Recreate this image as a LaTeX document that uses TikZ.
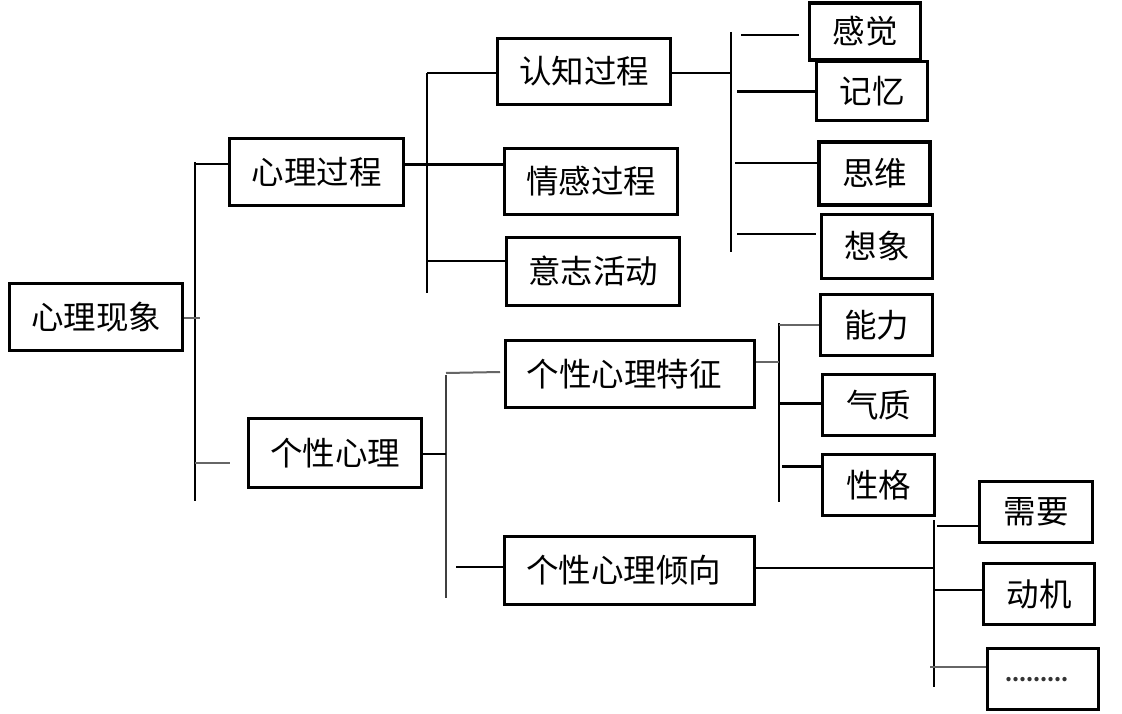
\documentclass[tikz,border=0pt]{standalone}
\usepackage{fontspec}
\newfontfamily\cjk{Noto Sans CJK SC}
\begin{document}
\begin{tikzpicture}[x=1pt,y=-1pt,
  box/.style={draw=black, line width=2.8pt, fill=white, inner sep=0pt, font=\cjk\fontsize{32.5}{36}\selectfont},
  thickbox/.style={box, line width=3.5pt},
  conn/.style={draw=black, line width=2pt},
  thickconn/.style={draw=black, line width=3pt},
  greyconn/.style={draw=black!60, line width=2pt}]
\useasboundingbox[fill=white] (0,0) rectangle (1122,714);

% boxes
\node[box, minimum width=173pt, minimum height=67pt] (root) at (96,317) {\raisebox{3pt}{心理现象}};
\node[box, minimum width=174pt, minimum height=67pt] (gc) at (316.5,172) {\raisebox{3pt}{心理过程}};
\node[box, minimum width=173pt, minimum height=69pt] (gx) at (335,453) {\raisebox{3pt}{个性心理}};
\node[box, minimum width=173pt, minimum height=66pt] (rz) at (584,71.5) {\raisebox{3pt}{认知过程}};
\node[box, minimum width=173pt, minimum height=66pt] (qg) at (591,181.5) {\raisebox{3pt}{情感过程}};
\node[box, minimum width=173pt, minimum height=68pt] (yz) at (593,271.5) {\raisebox{3pt}{意志活动}};
\node[box, minimum width=249pt, minimum height=67pt] (tz) at (630,374) {\hspace*{-12pt}\raisebox{3pt}{个性心理特征}};
\node[box, minimum width=250pt, minimum height=68pt] (qx) at (629.5,570.5) {\hspace*{-12pt}\raisebox{3pt}{个性心理倾向}};
\node[box, minimum width=111pt, minimum height=59pt] (jy) at (872,91) {\raisebox{3pt}{记忆}};
\node[thickbox, minimum width=111pt, minimum height=57pt] (gj) at (865,31.5) {\raisebox{3pt}{感觉}};
\node[thickbox, minimum width=111pt, minimum height=63pt] (sw) at (874.5,173.5) {\raisebox{3pt}{思维}};
\node[box, minimum width=111pt, minimum height=64pt] (xx) at (877,246.5) {\raisebox{3pt}{想象}};
\node[box, minimum width=112pt, minimum height=61pt] (nl) at (876.5,325) {\raisebox{3pt}{能力}};
\node[box, minimum width=112pt, minimum height=61pt] (qz) at (878.5,405) {\raisebox{3pt}{气质}};
\node[box, minimum width=112pt, minimum height=61pt] (xg) at (878.5,485) {\raisebox{3pt}{性格}};
\node[thickbox, minimum width=113pt, minimum height=61pt] (xy) at (1036,512) {\raisebox{3pt}{需要}};
\node[box, minimum width=111pt, minimum height=61pt] (dj) at (1039,594) {\raisebox{3pt}{动机}};
\node[box, minimum width=111pt, minimum height=61pt] (dd) at (1043,679) {\hspace*{-12pt}\raisebox{-6pt}{\fontsize{20}{20}\selectfont\bfseries\color{black!80}.........}};

% bus 1
\coordinate (b1t) at (195,162);
\coordinate (b1b) at (195,501);
\coordinate (b1g) at (195,164);
\coordinate (b1r) at (200,318);
\coordinate (b1x) at (195,463);
\coordinate (b1xe) at (230,463);
\draw[conn] (b1t) -- (b1b);
\draw[conn] (b1g) -- (gc.west |- b1g);
\draw[greyconn] (root.east |- b1r) -- (b1r);
\draw[greyconn] (b1x) -- (b1xe);

% bus 2
\coordinate (b2t) at (427,73);
\coordinate (b2b) at (427,293);
\coordinate (b2m) at (427,165);
\coordinate (b2l) at (427,261);
\draw[conn] (b2t) -- (b2b);
\draw[conn] (b2t) -- (rz.west |- b2t);
\draw[thickconn] (gc.east |- b2m) -- (qg.west |- b2m);
\draw[conn] (b2l) -- (yz.west |- b2l);

% bus 3
\coordinate (b3t) at (731,32);
\coordinate (b3b) at (731,252);
\coordinate (b3r) at (731,73);
\coordinate (g1s) at (741,35);
\coordinate (g1e) at (799,35);
\coordinate (j1) at (737,92);
\coordinate (s1) at (735,163);
\coordinate (x1) at (737,234);
\coordinate (x1e) at (816,234);
\draw[conn] (b3t) -- (b3b);
\draw[conn] (rz.east |- b3r) -- (b3r);
\draw[conn] (g1s) -- (g1e);
\draw[thickconn] (j1) -- (jy.west |- j1);
\draw[conn] (s1) -- (sw.west |- s1);
\draw[conn] (x1) -- (x1e);

% bus 4
\coordinate (b4t) at (446,375);
\coordinate (b4b) at (446,598);
\coordinate (b4g) at (446,454);
\coordinate (t1) at (446,373);
\coordinate (t1e) at (500,372);
\coordinate (q1) at (456,567);
\draw[draw=black!75, line width=2pt] (b4t) -- (b4b);
\draw[conn] (gx.east |- b4g) -- (b4g);
\draw[greyconn] (t1) -- (t1e);
\draw[conn] (q1) -- (qx.west |- q1);

% bus 5
\coordinate (b5t) at (779,323);
\coordinate (b5b) at (779,502);
\coordinate (b5r) at (779,362);
\coordinate (n1) at (779,325);
\coordinate (z1) at (779,403);
\coordinate (g2) at (782,466);
\draw[conn] (b5t) -- (b5b);
\draw[greyconn] (tz.east |- b5r) -- (b5r);
\draw[greyconn] (n1) -- (nl.west |- n1);
\draw[thickconn] (z1) -- (qz.west |- z1);
\draw[thickconn] (g2) -- (xg.west |- g2);

% bus 6
\coordinate (b6t) at (934,520);
\coordinate (b6b) at (934,687);
\coordinate (b6r) at (934,568);
\coordinate (y1) at (937,526);
\coordinate (d1) at (934,590);
\coordinate (e1) at (930,667);
\draw[conn] (b6t) -- (b6b);
\draw[conn] (qx.east |- b6r) -- (b6r);
\draw[conn] (y1) -- (xy.west |- y1);
\draw[conn] (d1) -- (dj.west |- d1);
\draw[greyconn] (e1) -- (dd.west |- e1);
\end{tikzpicture}
\end{document}
